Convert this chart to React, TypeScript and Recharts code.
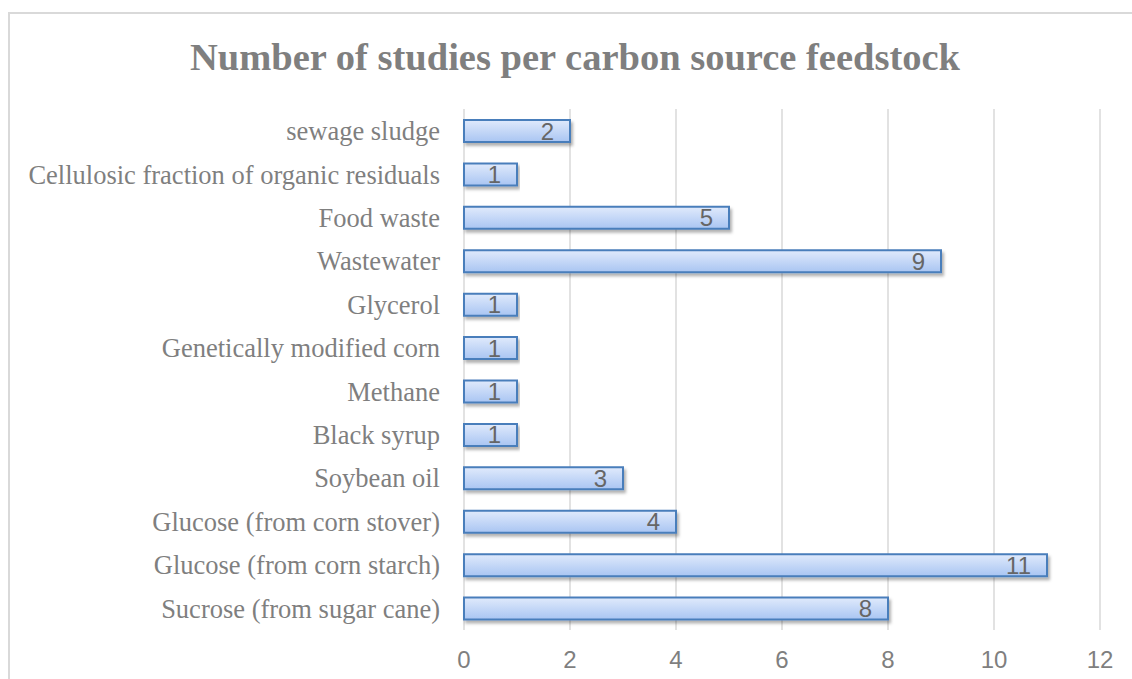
import React from "react";
import { BarChart, Bar, XAxis, YAxis, CartesianGrid, LabelList } from "recharts";

const categories = [
  "sewage sludge",
  "Cellulosic fraction of organic residuals",
  "Food waste",
  "Wastewater",
  "Glycerol",
  "Genetically modified corn",
  "Methane",
  "Black syrup",
  "Soybean oil",
  "Glucose (from corn stover)",
  "Glucose (from corn starch)",
  "Sucrose (from sugar cane)",
];
const studies = [2, 1, 5, 9, 1, 1, 1, 1, 3, 4, 11, 8];
const xTicks = [0, 2, 4, 6, 8, 10, 12];
const title = "Number of studies per carbon source feedstock";

const data = categories.map((name, i) => ({ name, value: studies[i] }));

export default function App() {
  return (
    <div
      style={{
        position: "fixed",
        left: 0,
        top: 0,
        width: 1132,
        height: 679,
        overflow: "hidden",
        background: "#fff",
      }}
    >
      <div
        style={{
          position: "absolute",
          left: 8,
          top: 12,
          width: 1300,
          height: 800,
          border: "2px solid #d9d9d9",
          boxSizing: "border-box",
        }}
      />
      <div
        style={{
          position: "absolute",
          left: 0,
          top: 35,
          width: 1150,
          textAlign: "center",
          fontFamily: "'Liberation Serif', 'Times New Roman', serif",
          fontWeight: "bold",
          fontSize: 38.5,
          color: "#7f7f7f",
          lineHeight: "44px",
        }}
      >
        {title}
      </div>
      <div style={{ position: "absolute", left: 0, top: 0 }}>
        <BarChart
          width={1132}
          height={679}
          data={data}
          layout="vertical"
          margin={{ top: 109, right: 32, bottom: 19, left: 0 }}
        >
          <defs>
            <linearGradient id="barGrad" x1="0" y1="0" x2="0" y2="1">
              <stop offset="0%" stopColor="#e0eafc" />
              <stop offset="100%" stopColor="#a9c5f2" />
            </linearGradient>
            <filter id="shadow" x="-5%" y="-30%" width="110%" height="180%">
              <feDropShadow dx="2" dy="3" stdDeviation="1.5" floodColor="#000" floodOpacity="0.3" />
            </filter>
          </defs>
          <CartesianGrid horizontal={false} stroke="#d9d9d9" strokeWidth={1.5} />
          <XAxis
            type="number"
            domain={[0, 12]}
            ticks={xTicks}
            axisLine={false}
            tickLine={false}
            tickSize={0}
            tickMargin={21}
            height={30}
            interval={0}
            tick={{ fill: "#7f7f7f", fontSize: 24, fontFamily: "'Liberation Sans', Arial, sans-serif" }}
          />
          <YAxis
            type="category"
            dataKey="name"
            width={464}
            axisLine={false}
            tickLine={false}
            tickSize={0}
            tickMargin={24}
            interval={0}
            tick={{ fill: "#7f7f7f", fontSize: 26.5, fontFamily: "'Liberation Serif', 'Times New Roman', serif" }}
          />
          <Bar
            dataKey="value"
            barSize={22}
            fill="url(#barGrad)"
            stroke="#4a7ebb"
            strokeWidth={2}
            filter="url(#shadow)"
            isAnimationActive={false}
          >
            <LabelList
              dataKey="value"
              position="insideRight"
              offset={16}
              fill="#666666"
              fontSize={24}
              fontFamily="'Liberation Sans', Arial, sans-serif"
            />
          </Bar>
        </BarChart>
      </div>
    </div>
  );
}
